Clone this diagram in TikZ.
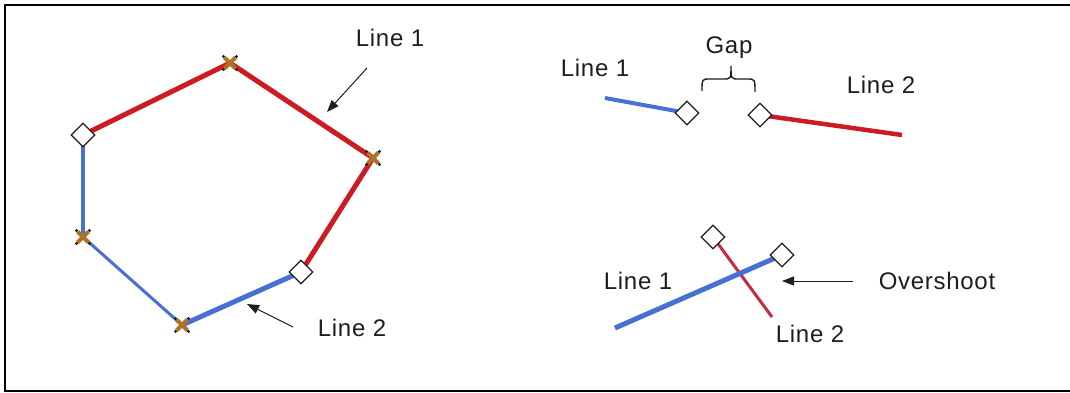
\documentclass[tikz,border=0pt]{standalone}
\usepackage{fontspec}
\setmainfont{Liberation Sans}[LetterSpace=3.0]
\usetikzlibrary{arrows.meta}
\definecolor{lred}{RGB}{206,26,34}
\definecolor{lcrim}{RGB}{196,44,66}
\definecolor{lblue}{RGB}{72,112,212}
\definecolor{lbrown}{RGB}{176,112,40}
\definecolor{ink}{RGB}{30,30,30}
\tikzset{
  redline/.style={draw=lred, line width=5pt},
  blueline/.style={draw=lblue, line width=4pt},
  vertexbox/.style={draw=ink, fill=white, line width=1.2pt, rectangle, rotate=45,
    minimum width=16.5pt, minimum height=16.5pt, inner sep=0pt},
  lbl/.style={text=ink, inner sep=0pt, font=\fontsize{24}{28}\selectfont},
  pointer/.style={draw=ink, line width=1pt, -{Triangle[length=12pt,width=9pt]}},
  xmk/.pic={
    \draw[lbrown, line width=4pt] (-5.5,-5.5) -- (5.5,5.5) (-5.5,5.5) -- (5.5,-5.5);
    \fill[ink] (-6.5,-6.5) circle (1.7) (6.5,6.5) circle (1.7) (-6.5,6.5) circle (1.7) (6.5,-6.5) circle (1.7);
  }
}
\begin{document}
\begin{tikzpicture}[x=1pt,y=-1pt]
\useasboundingbox (0,0) rectangle (1070,393);
\fill[white] (0,0) rectangle (1070,393);
% frame
\draw[black, line width=2.2pt] (1075,5) -- (5,5) -- (5,391) -- (1075,391);

% hexagon points
\coordinate (A) at (230,63);
\coordinate (B) at (373,158);
\coordinate (C) at (301,272);
\coordinate (D) at (182,325);
\coordinate (E) at (83,237);
\coordinate (F) at (83,135);

\draw[redline] (F) -- (A) -- (B) -- (C);
\draw[blueline, line width=3.5pt] (F) -- (E);
\draw[blueline, line width=3pt] (E) -- (D);
\draw[blueline, line width=5pt] (D) -- (C);

\pic at (A) {xmk};
\pic at (B) {xmk};
\pic at (D) {xmk};
\pic at (E) {xmk};
\node[vertexbox] (Fd) at (F) {};
\node[vertexbox] (Cd) at (C) {};

\node[lbl] (hl1) at (390,38) {Line 1};
\node[lbl] (hl2) at (352,328) {Line 2};
\coordinate (a1s) at (367,68);
\coordinate (a1e) at (327,112);
\coordinate (a2s) at (293,327);
\coordinate (a2e) at (247,304);
\draw[pointer] (a1s) -- (a1e);
\draw[pointer] (a2s) -- (a2e);

% gap example
\coordinate (g1s) at (605,98);
\coordinate (g1e) at (687,113);
\coordinate (g2s) at (760,115);
\coordinate (g2e) at (902,135);
\draw[blueline] (g1s) -- (g1e);
\draw[redline, line width=4.5pt] (g2s) -- (g2e);
\node[vertexbox] (g1d) at (g1e) {};
\node[vertexbox] (g2d) at (g2s) {};
\node[lbl] (gl1) at (595,68) {Line 1};
\node[lbl] (gl2) at (881,85) {Line 2};
\node[lbl] (gap) at (729,48) {Gap};
\draw[ink, line width=1.4pt] (702,91) .. controls (702,79) .. (710,79) -- (723,79)
  .. controls (731,79) .. (731,66) .. controls (731,79) .. (739,79) -- (747,79)
  .. controls (755,79) .. (755,92);

% overshoot example
\coordinate (o1s) at (615,328);
\coordinate (o1e) at (782,255);
\coordinate (o2s) at (713,237);
\coordinate (o2e) at (772,317);
\draw[draw=lcrim, line width=3pt] (o2s) -- (o2e);
\draw[blueline, line width=5pt] (o1s) -- (o1e);
\node[vertexbox] (o1d) at (o1e) {};
\node[vertexbox] (o2d) at (o2s) {};
\node[lbl] (ol1) at (638,281) {Line 1};
\node[lbl] (ol2) at (810,334) {Line 2};
\node[lbl] (over) at (937,281) {Overshoot};
\coordinate (oas) at (853,281);
\coordinate (oae) at (782,281);
\draw[pointer] (oas) -- (oae);
\end{tikzpicture}
\end{document}
